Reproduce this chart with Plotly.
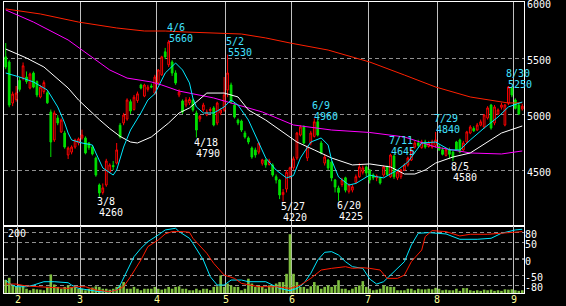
import plotly.graph_objects as go

# ---------------- data (trading-day index 0 = 2022-01-26) ----------------
opens = [5510,5464,5098,5130,5300,5320,5330,5232,5366,5290,
         5152,5200,5190,5018,4768,4964,4840,4830,4634,4660,
         4705,4741,4786,4786,4741,4705,4607,4366,4300,4366,
         4482,4540,4562,4900,4920,4955,5110,5040,5120,5259,
         5160,5220,5250,5187,5280,5350,5555,5440,5464,5366,
         5170,5116,5080,5100,5125,5009,4955,5036,4991,5030,
         5054,4920,5009,5036,5214,5259,5080,4946,4937,4830,
         4786,4696,4679,4660,4560,4589,4550,4545,4440,4411,
         4280,4330,4440,4520,4607,4812,4884,4607,4741,4800,
         4930,4741,4562,4589,4571,4411,4340,4370,4430,4310,
         4321,4390,4440,4480,4527,4500,4455,4430,4429,4455,
         4527,4440,4625,4429,4440,4500,4545,4589,4705,4741,
         4700,4750,4710,4705,4720,4710,4680,4630,4680,4660,
         4750,4768,4679,4750,4830,4870,4857,4900,4884,4964,
         5080,4920,5000,5060,4902,5098,5232,5125,5080,5045]
highs = [5634,5480,5200,5250,5330,5460,5380,5370,5380,5300,
         5260,5300,5210,5040,5030,4990,4960,4850,4710,4720,
         4780,4790,4860,4800,4750,4720,4620,4380,4380,4600,
         4560,4580,4741,4920,5010,5140,5130,5170,5200,5270,
         5270,5260,5270,5350,5400,5520,5590,5660,5480,5390,
         5220,5130,5150,5150,5140,5030,4990,5100,5040,5060,
         5070,5110,5050,5330,5530,5280,5100,4960,4950,4850,
         4800,4710,4700,4750,4600,4600,4600,4560,4460,4420,
         4330,4500,4530,4620,4840,4900,4900,4720,4850,4960,
         4950,4760,4640,4600,4580,4420,4360,4430,4440,4380,
         4370,4460,4560,4540,4540,4510,4470,4460,4440,4540,
         4540,4645,4640,4500,4510,4560,4620,4700,4760,4770,
         4770,4770,4760,4770,4840,4730,4700,4700,4700,4670,
         4760,4780,4760,4850,4900,4890,4920,4950,5000,5070,
         5090,5080,5050,5100,5090,5250,5240,5140,5100,5090]
lows = [5400,5060,5070,5110,5200,5300,5270,5220,5230,5150,
        5140,5180,5090,4616,4750,4900,4830,4690,4598,4640,
        4690,4720,4770,4640,4680,4630,4440,4260,4280,4350,
        4470,4500,4550,4780,4900,4940,5000,5030,5100,5220,
        5150,5200,5230,5170,5260,5340,5490,5420,5340,5260,
        5150,5000,5060,5080,5020,4790,4930,5020,4980,5000,
        4890,4900,4990,5020,5150,5090,4960,4900,4840,4780,
        4730,4600,4610,4640,4540,4520,4540,4440,4380,4240,
        4220,4300,4420,4500,4590,4800,4730,4580,4720,4790,
        4800,4640,4540,4500,4400,4300,4225,4350,4300,4290,
        4300,4380,4430,4460,4440,4380,4410,4400,4370,4440,
        4450,4430,4420,4410,4420,4490,4530,4580,4690,4700,
        4690,4690,4700,4690,4700,4670,4630,4620,4600,4580,
        4670,4650,4670,4740,4820,4840,4850,4890,4870,4950,
        4860,4900,4990,5040,4890,5080,5150,5040,4990,5030]
closes = [5420,5080,5178,5187,5220,5430,5290,5357,5240,5170,
          5240,5280,5100,4750,5009,4920,4946,4705,4696,4705,
          4768,4777,4812,4652,4700,4643,4455,4295,4340,4580,
          4545,4530,4679,4795,4991,5125,5027,5150,5180,5232,
          5259,5240,5240,5330,5393,5510,5510,5643,5366,5277,
          5196,5018,5125,5130,5036,4857,4980,5080,5018,5040,
          4902,5098,5036,5170,5366,5107,4973,4920,4857,4795,
          4750,4616,4634,4740,4590,4545,4580,4455,4411,4277,
          4300,4480,4520,4600,4830,4884,4741,4705,4830,4930,
          4812,4652,4616,4518,4429,4348,4300,4411,4320,4366,
          4350,4440,4527,4518,4473,4411,4430,4445,4384,4527,
          4460,4634,4440,4482,4500,4545,4607,4679,4741,4720,
          4750,4705,4740,4750,4768,4680,4640,4680,4640,4610,
          4679,4660,4741,4840,4884,4850,4902,4930,4991,5054,
          4875,5063,5036,5080,5080,5241,5170,5050,5000,5070]
volume = [43,50,25,22,20,25,14,9,14,12,
          11,9,20,61,28,20,14,20,25,20,
          20,14,14,9,14,18,22,20,14,14,
          11,14,20,25,36,14,14,20,14,9,
          14,14,14,20,14,11,14,20,14,20,
          22,14,14,9,9,14,9,14,14,9,
          20,22,58,20,31,25,20,20,9,14,
          47,31,20,25,20,14,25,25,31,36,
          36,63,193,63,36,20,20,14,22,36,
          25,14,20,25,20,25,42,14,14,9,
          14,20,25,39,20,14,9,11,14,25,
          22,20,20,9,9,9,14,14,9,14,
          12,12,14,12,17,14,9,11,9,9,
          14,7,16,16,9,7,9,7,11,9,
          11,7,9,7,12,11,12,9,7,9]

ma5_idx = [0,4,8,12,15,17,18,19,22,25,26,28,31,32,34,36,39,41,43,46,
           49,51,53,54,55,57,60,63,65,67,70,73,75,78,81,83,85,88,91,93,
           94,96,99,101,105,107,109,113,116,120,124,128,131,134,138,142,145,149]
ma5 = [5366,5330,5286,5214,5063,4920,4830,4768,4741,4723,4652,4518,4455,4500,4705,4857,5009,5125,5180,5366,
       5455,5393,5277,5140,5063,5009,5009,5063,5125,5080,4946,4741,4607,4500,4429,4450,4607,4750,4786,4723,
       4589,4438,4366,4380,4455,4440,4430,4500,4571,4741,4750,4679,4679,4768,4875,4973,5063,5107]
ma25_idx = [0,6,11,18,21,24,27,30,33,36,38,42,47,50,53,58,63,67,70,75,
            79,84,89,94,100,105,111,115,118,121,124,129,134,139,143,149]
ma25 = [5580,5500,5420,5232,5125,5036,4950,4870,4800,4750,4741,4795,4920,5009,5054,5187,5187,5152,5036,4946,
        4857,4750,4679,4607,4545,4554,4527,4464,4464,4500,4562,4616,4652,4750,4830,4893]
ma75_idx = [0,8,18,25,30,35,42,45,50,60,70,74,83,94,105,115,124,134,143,149]
ma75 = [5929,5821,5661,5509,5393,5321,5286,5259,5205,5143,5054,5018,4902,4857,4835,4795,4705,4652,4643,4670]
ma200_idx = [0,10,21,32,40,46,52,60,68,75,82,93,100,105,115,124,134,145,149]
ma200 = [5938,5893,5821,5768,5741,5741,5732,5725,5714,5679,5634,5571,5509,5464,5348,5241,5152,5098,5100]

osc_a_idx = [0,1,3,6,8,11,14,18,19,21,24,27,30,32,33,35,37,39,41,44,
             46,49,50,53,54,57,59,61,63,65,68,70,75,77,79,82,84,86,88,90,
             92,94,96,98,100,103,105,107,109,112,115,117,119,122,127,131,136,140,143,147,149]
osc_a = [-63,-73,-83,-83,-78,-68,-68,-71,-78,-88,-93,-98,-98,-93,-78,-33,7,32,52,72,
         87,92,82,62,47,-3,-53,-78,-78,-63,-63,-68,-68,-78,-88,-95,-88,-73,-43,-3,
         20,22,12,-8,-23,-28,-60,-75,-68,-38,-8,42,77,79,75,59,59,62,77,87,89]
osc_b_idx = [0,3,6,11,18,20,23,26,30,32,34,36,39,41,44,46,48,51,53,54,
             58,60,63,66,68,73,78,82,85,88,91,94,98,100,103,105,108,110,113,115,
             117,120,121,123,127,131,134,139,143,146,149]
osc_b = [-75,-75,-81,-83,-88,-83,-83,-93,-98,-93,-83,-53,-3,37,57,75,82,82,80,62,
         17,-13,-48,-58,-73,-83,-83,-88,-78,-58,-33,-28,-23,-28,-26,-28,-33,-58,-58,-48,
         -8,27,67,85,82,69,74,74,77,79,82]

month_start = [4, 22, 44, 64, 83, 105, 125, 147]
month_labels = ['2', '3', '4', '5', '6', '7', '8', '9']
price_ticks = [4500, 5000, 5500, 6000]
osc_ticks = [-80, -50, 0, 50, 80]

mark_idx = [27, 47, 55, 64, 80, 89, 96, 111, 124, 129, 145]
mark_date = ['3/8', '4/6', '4/18', '5/2', '5/27', '6/9', '6/20', '7/11', '7/29', '8/5', '8/30']
mark_price = [4260, 5660, 4790, 5530, 4220, 4960, 4225, 4645, 4840, 4580, 5250]
mark_kind = ['L', 'H', 'L', 'H', 'L', 'H', 'L', 'H', 'H', 'L', 'H']

# ---------------- figure ----------------
days = list(range(len(opens)))
FONT = 'DejaVu Sans Mono'
SPLIT = 67 / 291

fig = go.Figure()
fig.add_trace(go.Bar(x=days, y=volume, marker=dict(color='#80c040', line=dict(width=0)),
                     width=0.75, xaxis='x', yaxis='y2', hoverinfo='skip'))
fig.add_trace(go.Scatter(x=osc_a_idx, y=osc_a, mode='lines', line=dict(color='#00e8ff', width=1),
                         xaxis='x', yaxis='y3', hoverinfo='skip'))
fig.add_trace(go.Scatter(x=osc_b_idx, y=osc_b, mode='lines', line=dict(color='#ff1a00', width=1),
                         xaxis='x', yaxis='y3', hoverinfo='skip'))

for xi, yv, col in [(ma200_idx, ma200, '#ff2000'), (ma75_idx, ma75, '#ff00ff'),
                    (ma25_idx, ma25, '#ffffff'), (ma5_idx, ma5, '#00e8ff')]:
    fig.add_trace(go.Scatter(x=xi, y=yv, mode='lines', line=dict(color=col, width=1),
                             xaxis='x', yaxis='y', hoverinfo='skip'))

fig.add_trace(go.Candlestick(
    x=days, open=opens, high=highs, low=lows, close=closes,
    increasing=dict(line=dict(color='#ff0000', width=1), fillcolor='#000000'),
    decreasing=dict(line=dict(color='#00e000', width=1), fillcolor='#00e000'),
    whiskerwidth=0, xaxis='x', yaxis='y', hoverinfo='skip'))

anns = []
for i, d, p, k in zip(mark_idx, mark_date, mark_price, mark_kind):
    col = '#40e0ff' if k == 'H' else '#ffffff'
    if k == 'H':
        dy_date, dy_val = 13, 2
    else:
        dy_date, dy_val = -5, -16
    anns.append(dict(x=i, y=p, xref='x', yref='y', text=d, showarrow=False,
                     xanchor='left', yanchor='middle', xshift=-3, yshift=dy_date,
                     font=dict(family=FONT, size=10, color=col), borderpad=0))
    anns.append(dict(x=i, y=p, xref='x', yref='y', text=str(p), showarrow=False,
                     xanchor='left', yanchor='middle', xshift=-1, yshift=dy_val,
                     font=dict(family=FONT, size=10, color=col), borderpad=0))
# volume scale label
anns.append(dict(x=0, y=1, xref='paper', yref='y2 domain', text='200', showarrow=False,
                 xanchor='left', yanchor='top', xshift=3, yshift=-1,
                 font=dict(family=FONT, size=10, color='#ffffff'), borderpad=0))
# top price label (at the panel edge)
anns.append(dict(x=1, y=price_ticks[-1], xref='paper', yref='y', text=str(price_ticks[-1]),
                 showarrow=False, xanchor='left', yanchor='middle', xshift=2, yshift=-2,
                 font=dict(family=FONT, size=10, color='#ffffff'), borderpad=0))
# month labels
for m, lab in zip(month_start, month_labels):
    anns.append(dict(x=m - 0.5, y=0, xref='x', yref='y2 domain', text=lab, showarrow=False,
                     xanchor='center', yanchor='top', yshift=0,
                     font=dict(family=FONT, size=10, color='#ffff99'), borderpad=0))

grid_dash = '4px,3px'
fig.update_layout(
    width=566, height=306, margin=dict(l=4, r=42, t=2, b=13, autoexpand=False),
    paper_bgcolor='#000000', plot_bgcolor='#000000', showlegend=False,
    xaxis=dict(domain=[0, 1], range=[-0.5, len(opens) - 0.5], anchor='y2', automargin=False,
               tickmode='array', tickvals=[m - 0.5 for m in month_start], showticklabels=False,
               showgrid=True, gridcolor='#c0c0c0', gridwidth=1, ticks='', zeroline=False,
               showline=True, linecolor='#ffffff', linewidth=1, mirror='all',
               rangeslider=dict(visible=False)),
    yaxis=dict(domain=[SPLIT, 1], range=[4000, 6000], side='right', anchor='x', automargin=False,
               tickmode='array', tickvals=price_ticks[:-1], ticks='',
               showgrid=True, gridcolor='#909090', griddash=grid_dash, gridwidth=1,
               zeroline=False, showline=True, linecolor='#ffffff', mirror=True,
               tickfont=dict(family=FONT, size=10, color='#ffffff'), ticklabelshift=2),
    yaxis2=dict(domain=[0, SPLIT], range=[0, 220], anchor='x', showgrid=False, automargin=False,
                showticklabels=False, ticks='', zeroline=False,
                showline=True, linecolor='#ffffff', mirror=True),
    yaxis3=dict(overlaying='y2', range=[-101.8, 98.8], side='right', anchor='x', automargin=False,
                tickmode='array', tickvals=osc_ticks, ticktext=[str(t) for t in osc_ticks], ticks='',
                showgrid=True, gridcolor='#909090', griddash=grid_dash, gridwidth=1,
                zeroline=False, tickfont=dict(family=FONT, size=10, color='#ffffff'),
                ticklabelshift=2),
    annotations=anns,
    shapes=[dict(type='line', xref='x domain', x0=0, x1=1, yref='y3', y0=0, y1=0,
                 line=dict(color='#ffffff', width=1, dash=grid_dash), layer='below')],
)

fig.write_html('out.html')
